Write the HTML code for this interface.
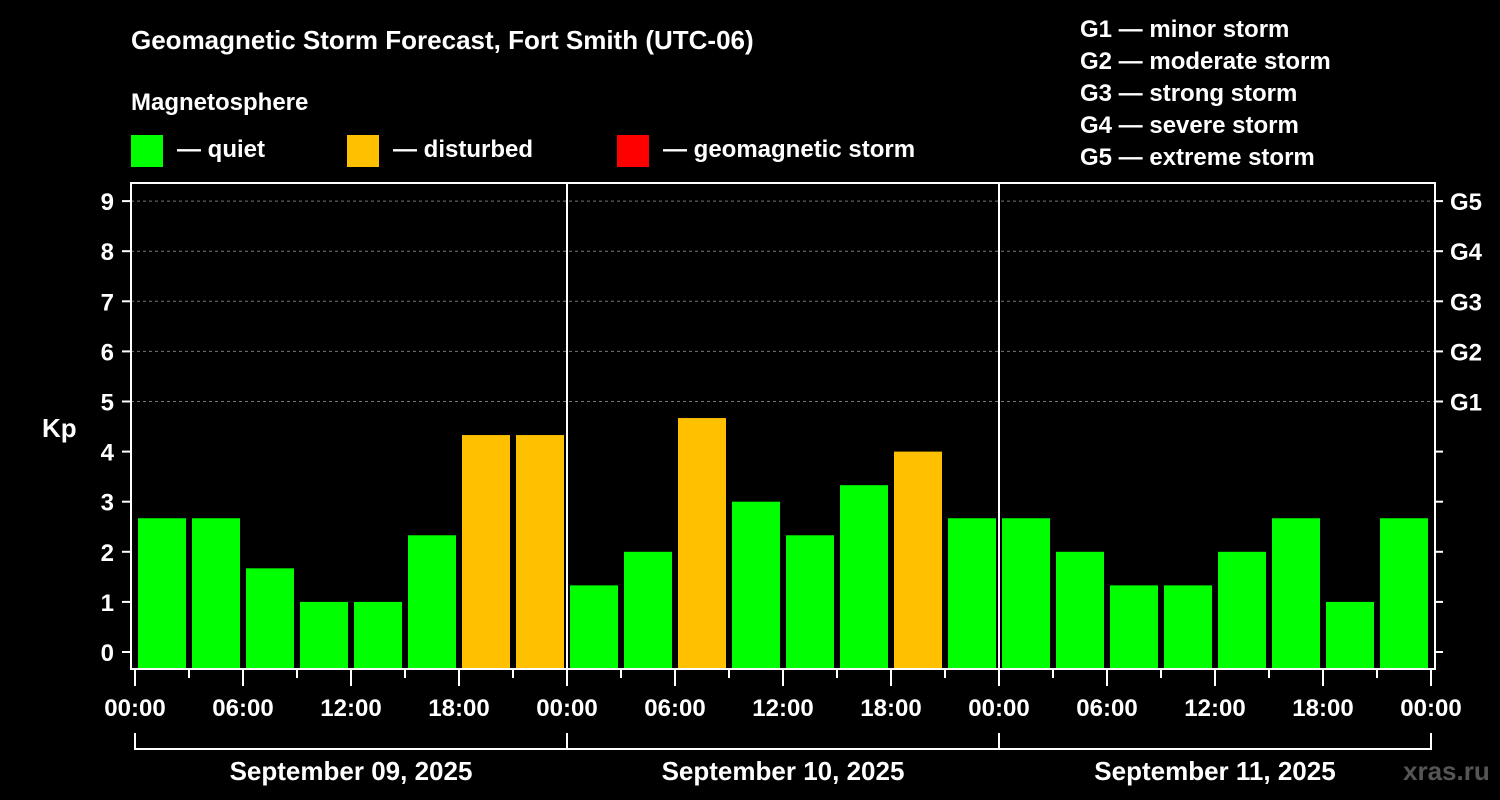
<!DOCTYPE html>
<html><head><meta charset="utf-8"><style>
body{margin:0;background:#000;width:1500px;height:800px;overflow:hidden}
svg{display:block;font-family:"Liberation Sans",Arial,sans-serif;font-weight:bold}
</style></head><body>
<svg id="c" width="1500" height="800">
<text x="131" y="49" fill="#fff" font-size="26">Geomagnetic Storm Forecast, Fort Smith (UTC-06)</text>
<text x="131" y="110" fill="#fff" font-size="24">Magnetosphere</text>
<g><rect x="131" y="135" width="32" height="32" fill="#00ff00"/><text x="177" y="157" fill="#fff" font-size="24">— quiet</text></g>
<g><rect x="347" y="135" width="32" height="32" fill="#ffc000"/><text x="393" y="157" fill="#fff" font-size="24">— disturbed</text></g>
<g><rect x="617" y="135" width="32" height="32" fill="#ff0000"/><text x="663" y="157" fill="#fff" font-size="24">— geomagnetic storm</text></g>
<g fill="#fff" font-size="24">
<text x="1080" y="37">G1 — minor storm</text><text x="1080" y="69">G2 — moderate storm</text><text x="1080" y="101">G3 — strong storm</text><text x="1080" y="133">G4 — severe storm</text><text x="1080" y="165">G5 — extreme storm</text></g>
<text x="42" y="437" fill="#fff" font-size="26">Kp</text>
<text x="1403" y="780" fill="#555" font-size="26">xras.ru</text>
<g id="plot"></g>
</svg>
<script>
const kpValues=[2.67,2.67,1.67,1,1,2.33,4.33,4.33, 1.33,2,4.67,3,2.33,3.33,4,2.67, 2.67,2,1.33,1.33,2,2.67,1,2.67];
const dayLabels=["September 09, 2025","September 10, 2025","September 11, 2025"];
const hourLabels=["00:00","06:00","12:00","18:00"];
const yTicks=[0,1,2,3,4,5,6,7,8,9];
const gLabels=["G1","G2","G3","G4","G5"];
const NS="http://www.w3.org/2000/svg",P=document.getElementById('plot');
const x0=135,slot=54,yZero=652,unit=50.1;
const X=i=>x0+i*slot, Y=v=>yZero-v*unit;
function el(t,a,txt){const e=document.createElementNS(NS,t);for(const k in a)e.setAttribute(k,a[k]);if(txt!=null)e.textContent=txt;P.appendChild(e);return e;}
// gridlines
yTicks.filter(v=>v>=5).forEach(v=>{const g=el('line',{x1:131,x2:1435,y1:Y(v),y2:Y(v),stroke:'#777','stroke-dasharray':'3,3'});

});
// bars
kpValues.forEach((v,i)=>{const r=el('rect',{x:X(i)+3,y:Y(v),width:48,height:669-Y(v),fill:v>=5?'#ff0000':(v>=4?'#ffc000':'#00ff00')});

});
// frame
const f=el('rect',{x:131,y:183,width:1304,height:486,fill:'none',stroke:'#fff','stroke-width':2});


for(let d=1;d<dayLabels.length;d++){const l=el('line',{x1:X(d*8),x2:X(d*8),y1:183,y2:669,stroke:'#fff','stroke-width':2});

}
// y ticks
yTicks.forEach(v=>{el('line',{x1:122,x2:131,y1:Y(v),y2:Y(v),stroke:'#fff','stroke-width':2});el('line',{x1:1435,x2:1443,y1:Y(v),y2:Y(v),stroke:'#fff','stroke-width':2});
const t=el('text',{x:114,y:Y(v)+9,fill:'#fff','font-size':24,'text-anchor':'end'},v);

});
gLabels.forEach((g,i)=>{const t=el('text',{x:1450,y:Y(5+i)+9,fill:'#fff','font-size':24},g);

});
// x ticks
for(let i=0;i<=kpValues.length;i++){const major=i%2==0;el('line',{x1:X(i),x2:X(i),y1:669,y2:major?686:678,stroke:'#fff','stroke-width':2});
if(major){const t=el('text',{x:X(i),y:716,fill:'#fff','font-size':24,'text-anchor':'middle'},hourLabels[(i/2)%4]);

}}
// day brackets
dayLabels.forEach((d,k)=>{const a=X(k*8),b=X(k*8+8);el('path',{d:`M${a} 733V749H${b}V733`,stroke:'#fff','stroke-width':2,fill:'none'});
const t=el('text',{x:(a+b)/2,y:780,fill:'#fff','font-size':26,'text-anchor':'middle'},d);

});
</script>
</body></html>
